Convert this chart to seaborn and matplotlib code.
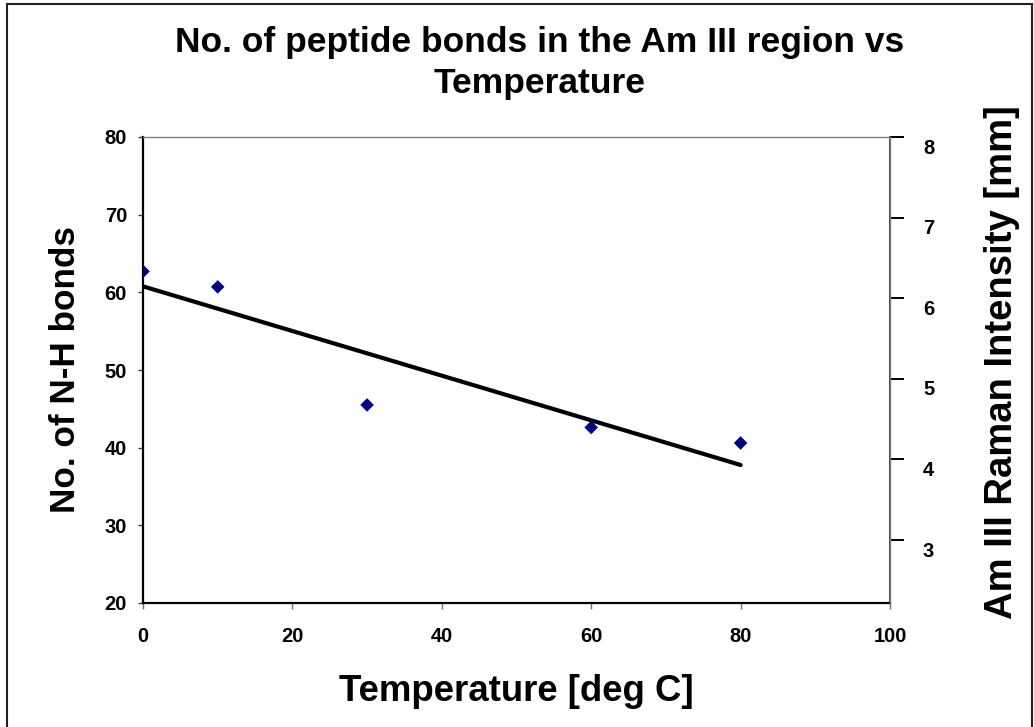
import matplotlib
matplotlib.use("Agg")
import matplotlib.pyplot as plt
import seaborn as sns
import numpy as np
import pandas as pd
from matplotlib.patches import Rectangle
from matplotlib.transforms import ScaledTranslation

# Data
temperature = [0, 10, 30, 60, 80]
nh_bonds = [62.7, 60.7, 45.5, 42.6, 40.6]
x_ticks = [0, 20, 40, 60, 80, 100]
left_ticks = [20, 30, 40, 50, 60, 70, 80]
right_ticks = [3, 4, 5, 6, 7, 8]

title = "No. of peptide bonds in the Am III region vs\nTemperature"
xlabel = "Temperature [deg C]"
ylabel_left = "No. of N-H bonds"
ylabel_right = "Am III Raman Intensity [mm]"

sns.set_theme(style="white")
plt.rcParams['font.family'] = ['Liberation Sans', 'DejaVu Sans']
plt.rcParams['text.color'] = 'black'
plt.rcParams['axes.labelcolor'] = 'black'
plt.rcParams['xtick.color'] = 'black'
plt.rcParams['ytick.color'] = 'black'

df = pd.DataFrame({"temp": temperature, "nh": nh_bonds})

fig = plt.figure(figsize=(10.34, 7.27), dpi=100)
ax = fig.add_axes([143/1034, 1 - 603/727, (890-143)/1034, (603-137)/727])

sns.regplot(data=df, x="temp", y="nh", ax=ax, ci=None, truncate=True,
            marker="D",
            scatter_kws=dict(s=48, color="#000080", alpha=1, edgecolor="none", zorder=3),
            line_kws=dict(color="black", lw=3, zorder=2))

ax.set_xlim(0, 100)
ax.set_ylim(20, 80)
ax.set_xticks(x_ticks)
ax.set_yticks(left_ticks)
ax.set_xlabel(xlabel, fontsize=26.4, fontweight="bold")
ax.set_ylabel(ylabel_left, fontsize=25.3, fontweight="bold")
ax.xaxis.set_label_coords(0.5, -0.1524)
ax.yaxis.set_label_coords(-0.0817, 0.502)
for lab in ax.get_xticklabels() + ax.get_yticklabels():
    lab.set_fontweight("bold")
    lab.set_fontsize(14.5)
ax.tick_params(axis="x", direction="out", length=4.5, width=1, color="#707070",
               pad=13, bottom=True, labelcolor="black")
ax.tick_params(axis="y", direction="out", length=3.6, width=1, color="#404040",
               pad=7.9, left=True, labelcolor="black")

for s in ["left", "bottom"]:
    ax.spines[s].set_color("black")
    ax.spines[s].set_linewidth(1.6)
ax.spines["top"].set_color("#808080")
ax.spines["top"].set_linewidth(1.0)

ax2 = ax.twinx()
ax2.set_ylim(2.22, 8)
ax2.set_yticks(right_ticks)
ax2.tick_params(axis="y", direction="out", length=10, width=1.4, color="black",
                pad=13.7, right=True, labelcolor="black")
for lab in ax2.get_yticklabels():
    lab.set_fontweight("bold")
    lab.set_fontsize(14.5)
ax2.spines["right"].set_color("#808080")
ax2.spines["right"].set_linewidth(1.0)
for s in ["left", "bottom", "top"]:
    ax2.spines[s].set_visible(False)
ax2.set_ylabel(ylabel_right, fontsize=27.5, fontweight="bold")
ax2.yaxis.set_label_coords(1.1258, 0.517)
ax2.grid(False)
ax.grid(False)

# Right tick labels sit slightly below their tick marks in the original
off = ScaledTranslation(0, -9/100, fig.dpi_scale_trans)
for lab in ax2.get_yticklabels():
    lab.set_transform(lab.get_transform() + off)

# va="baseline" anchors the baseline of the last line (second line baseline ~ y=93 px)
fig.text(0.522, 1 - 93.3/727, title, ha="center", va="baseline", fontsize=25.5,
         fontweight="bold", linespacing=1.31, multialignment="center")

fig.patches.append(Rectangle((7/1034, -0.02), 1025/1034, 1.02 - 4/727,
                             transform=fig.transFigure,
                             fill=False, edgecolor="#202020", lw=1.5))

fig.savefig("out.png", dpi=100)
